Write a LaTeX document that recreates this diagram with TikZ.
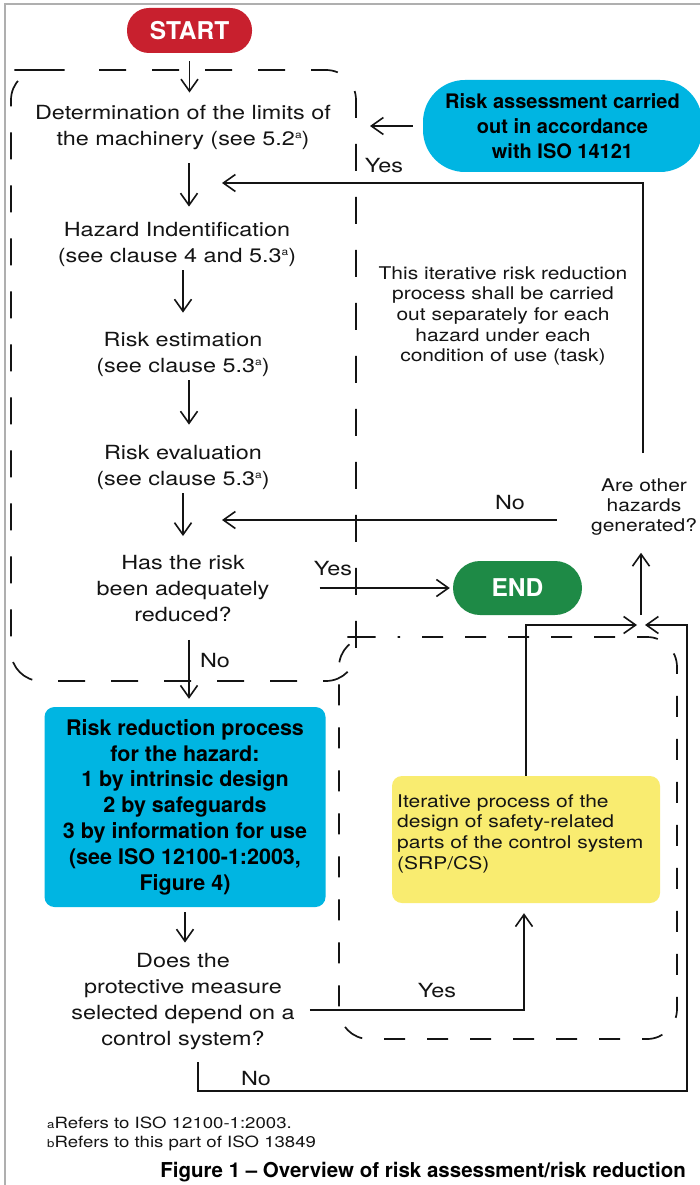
\documentclass[tikz,border=0pt]{standalone}
\usepackage{fontspec}
\usetikzlibrary{arrows.meta}
\newfontfamily\heros{TeX Gyre Heros}[Ligatures=TeX]
\newfontfamily\herosw{TeX Gyre Heros}[FakeStretch=1.2,Ligatures=TeX]
\definecolor{startred}{RGB}{200,32,46}
\definecolor{endgreen}{RGB}{30,138,70}
\definecolor{isocyan}{RGB}{0,181,226}
\definecolor{isoyellow}{RGB}{249,236,112}
\definecolor{framegray}{RGB}{175,175,175}
\definecolor{ink}{RGB}{20,20,20}
\newcommand{\supa}{\raisebox{7pt}{\fontsize{10}{10}\selectfont a}}
\tikzset{
  ln/.style={draw=ink, line width=1.6pt},
  arr/.style={ln, -{Straight Barb[length=12pt,width=17pt]}},
  dboxa/.style={draw=ink, line width=1.7pt, dash pattern=on 27pt off 26pt, dash phase=27pt, rounded corners=30pt},
  dboxb/.style={draw=ink, line width=1.7pt, dash pattern=on 21pt off 22pt, dash phase=21pt, rounded corners=30pt},
  steptxt/.style={align=center, inner sep=0pt, text=ink, font=\herosw\fontsize{19.5}{26}\selectfont},
  smalltxt/.style={align=center, inner sep=0pt, text=ink, font=\herosw\fontsize{17.5}{20.7}\selectfont},
  lbl/.style={inner sep=0pt, text=ink, font=\herosw\fontsize{19.5}{24}\selectfont},
  pill/.style={inner sep=0pt, text=white, font=\heros\bfseries\fontsize{24.5}{28}\selectfont},
  boldtxt/.style={align=center, inner sep=0pt, text=black, font=\heros\bfseries\fontsize{21.5}{25.8}\selectfont},
}
\begin{document}
\begin{tikzpicture}[x=1pt,y=-1pt]
\useasboundingbox (0,0) rectangle (700,1185);
\fill[white] (0,0) rectangle (700,1185);
% frame
\draw[framegray, line width=1.5pt] (5,1185) -- (5,4) -- (700,4);

% dashed grouping boxes
\draw[dboxa] (43,70) -- (356,70) -- (356,681) -- (11,681) -- (11,70) -- cycle;
\draw[dboxb] (370,637) -- (677,637) -- (677,1039) -- (339,1039) -- (339,637) -- cycle;

% nodes
\node[pill, fill=startred, minimum width=125pt, minimum height=45pt, rounded corners=22pt] (start) at (189.5,30.5) {START};
\node[steptxt] (det) at (183,127) {Determination of the limits of\\the machinery (see 5.2\supa)};
\node[steptxt] (haz) at (177,244) {Hazard Indentification\\(see clause 4 and 5.3\supa)};
\node[steptxt] (est) at (183,354) {Risk estimation\\(see clause 5.3\supa)};
\node[steptxt] (evl) at (183,467) {Risk evaluation\\(see clause 5.3\supa)};
\node[steptxt] (has) at (183,588.5) {Has the risk\\been adequately\\reduced?};
\node[pill, fill=endgreen, minimum width=129pt, minimum height=54pt, rounded corners=27pt] (endn) at (517.5,588) {END};
\node[boldtxt, fill=isocyan, rounded corners=10pt, minimum width=281pt, minimum height=200pt] (rr) at (185,807) {Risk reduction process\\for the hazard:\\1 by intrinsic design\\2 by safeguards\\3 by information for use\\(see ISO 12100-1:2003,\\Figure 4)};
\node[steptxt] (does) at (183,1002) {Does the\\protective measure\\selected depend on a\\control system?};
\node[fill=isoyellow, rounded corners=10pt, minimum width=268pt, minimum height=127pt, inner sep=0pt] (yel) at (526,839.5) {};
\node[smalltxt, align=left, anchor=north west] (yeltxt) at (397,794) {Iterative process of the\\design of safety-related\\parts of the control system\\(SRP/CS)};
\node[boldtxt, font=\heros\bfseries\fontsize{20}{25}\selectfont, fill=isocyan, rounded corners=42pt, minimum width=279pt, minimum height=92pt] (ra) at (562.5,126) {Risk assessment carried\\out in accordance\\with ISO 14121};
\node[smalltxt] (iter) at (503,316) {This iterative risk reduction\\process shall be carried\\out separately for each\\hazard under each\\condition of use (task)};
\node[smalltxt, font=\herosw\fontsize{17.5}{20.3}\selectfont] (aoh) at (644,507) {Are other\\hazards\\generated?};

% labels
\node[lbl] (yes1) at (333,569) {Yes};
\node[lbl] (no1) at (215,661) {No};
\node[lbl] (yes2) at (384,166) {Yes};
\node[lbl] (no2) at (510,503) {No};
\node[lbl] (yes3) at (437,991) {Yes};
\node[lbl] (no3) at (256,1079) {No};

% junction and free-end coordinates
\coordinate (aj) at (641,625);
\coordinate (yj) at (524,1010);
\coordinate (nr) at (687,1091);
\coordinate (yt) at (643,183);
\coordinate (ytip) at (222,183);
\coordinate (ntip) at (222,520);
\coordinate (rtip) at (370,126);

% main flow
\draw[arr, shorten <=8pt, shorten >=12pt] (start.south) -- (start.south |- det.north);
\draw[arr, shorten <=14pt, shorten >=15pt] ([xshift=6pt]det.south) -- ([xshift=6pt]det.south |- haz.north);
\draw[arr, shorten <=4pt, shorten >=19pt] ([xshift=6pt]haz.south) -- ([xshift=6pt]haz.south |- est.north);
\draw[arr, shorten <=4pt, shorten >=20pt] ([xshift=6pt]est.south) -- ([xshift=6pt]est.south |- evl.north);
\draw[arr, shorten <=4pt, shorten >=19pt] (evl.south) -- (evl.south |- has.north);
\draw[arr, shorten <=18pt, shorten >=8pt] ([xshift=6pt]has.south) -- ([xshift=6pt]has.south |- rr.north);
\draw[arr, shorten <=50pt, shorten >=3pt] (has.east |- endn.west) -- (endn.west);
\draw[arr, shorten <=5pt, shorten >=11pt] (rr.south) -- (rr.south |- does.north);

% control system branch
\draw[arr, shorten <=15pt, shorten >=10pt] (does.east |- yj) -- (yj) -- (yj |- yel.south);
\draw[arr, shorten >=4pt] (yel.north) -- (yel.north |- aj) -- (aj);
\draw[arr, shorten <=12pt, shorten >=4pt] ([xshift=15pt]does.south) -- ([xshift=15pt]does.south |- nr) -- (nr) -- (nr |- aj) -- (aj);
\draw[arr, shorten <=10pt] (aj) -- ([yshift=-17pt]aj |- aoh.south);

% other hazards loop
\draw[arr] ([yshift=25pt]aoh.north -| yt) -- (yt) -- (ytip);
\draw[arr, shorten <=34pt] (aoh.west |- ntip) -- (ntip);
\draw[arr, shorten <=10pt] (ra.west) -- (rtip);

% footnotes and caption
\node[anchor=base west, inner sep=0pt, text=ink, font=\herosw\fontsize{15.5}{20}\selectfont] (fna) at (47,1128) {{\fontsize{11}{11}\selectfont a}Refers to ISO 12100-1:2003.};
\node[anchor=base west, inner sep=0pt, text=ink, font=\herosw\fontsize{15.5}{20}\selectfont] (fnb) at (47,1147) {{\fontsize{11}{11}\selectfont b}Refers to this part of ISO 13849};
\node[anchor=base east, inner sep=0pt, text=black, font=\heros\bfseries\fontsize{20.5}{24}\selectfont] (cap) at (686,1177) {Figure 1 – Overview of risk assessment/risk reduction};
\end{tikzpicture}
\end{document}
